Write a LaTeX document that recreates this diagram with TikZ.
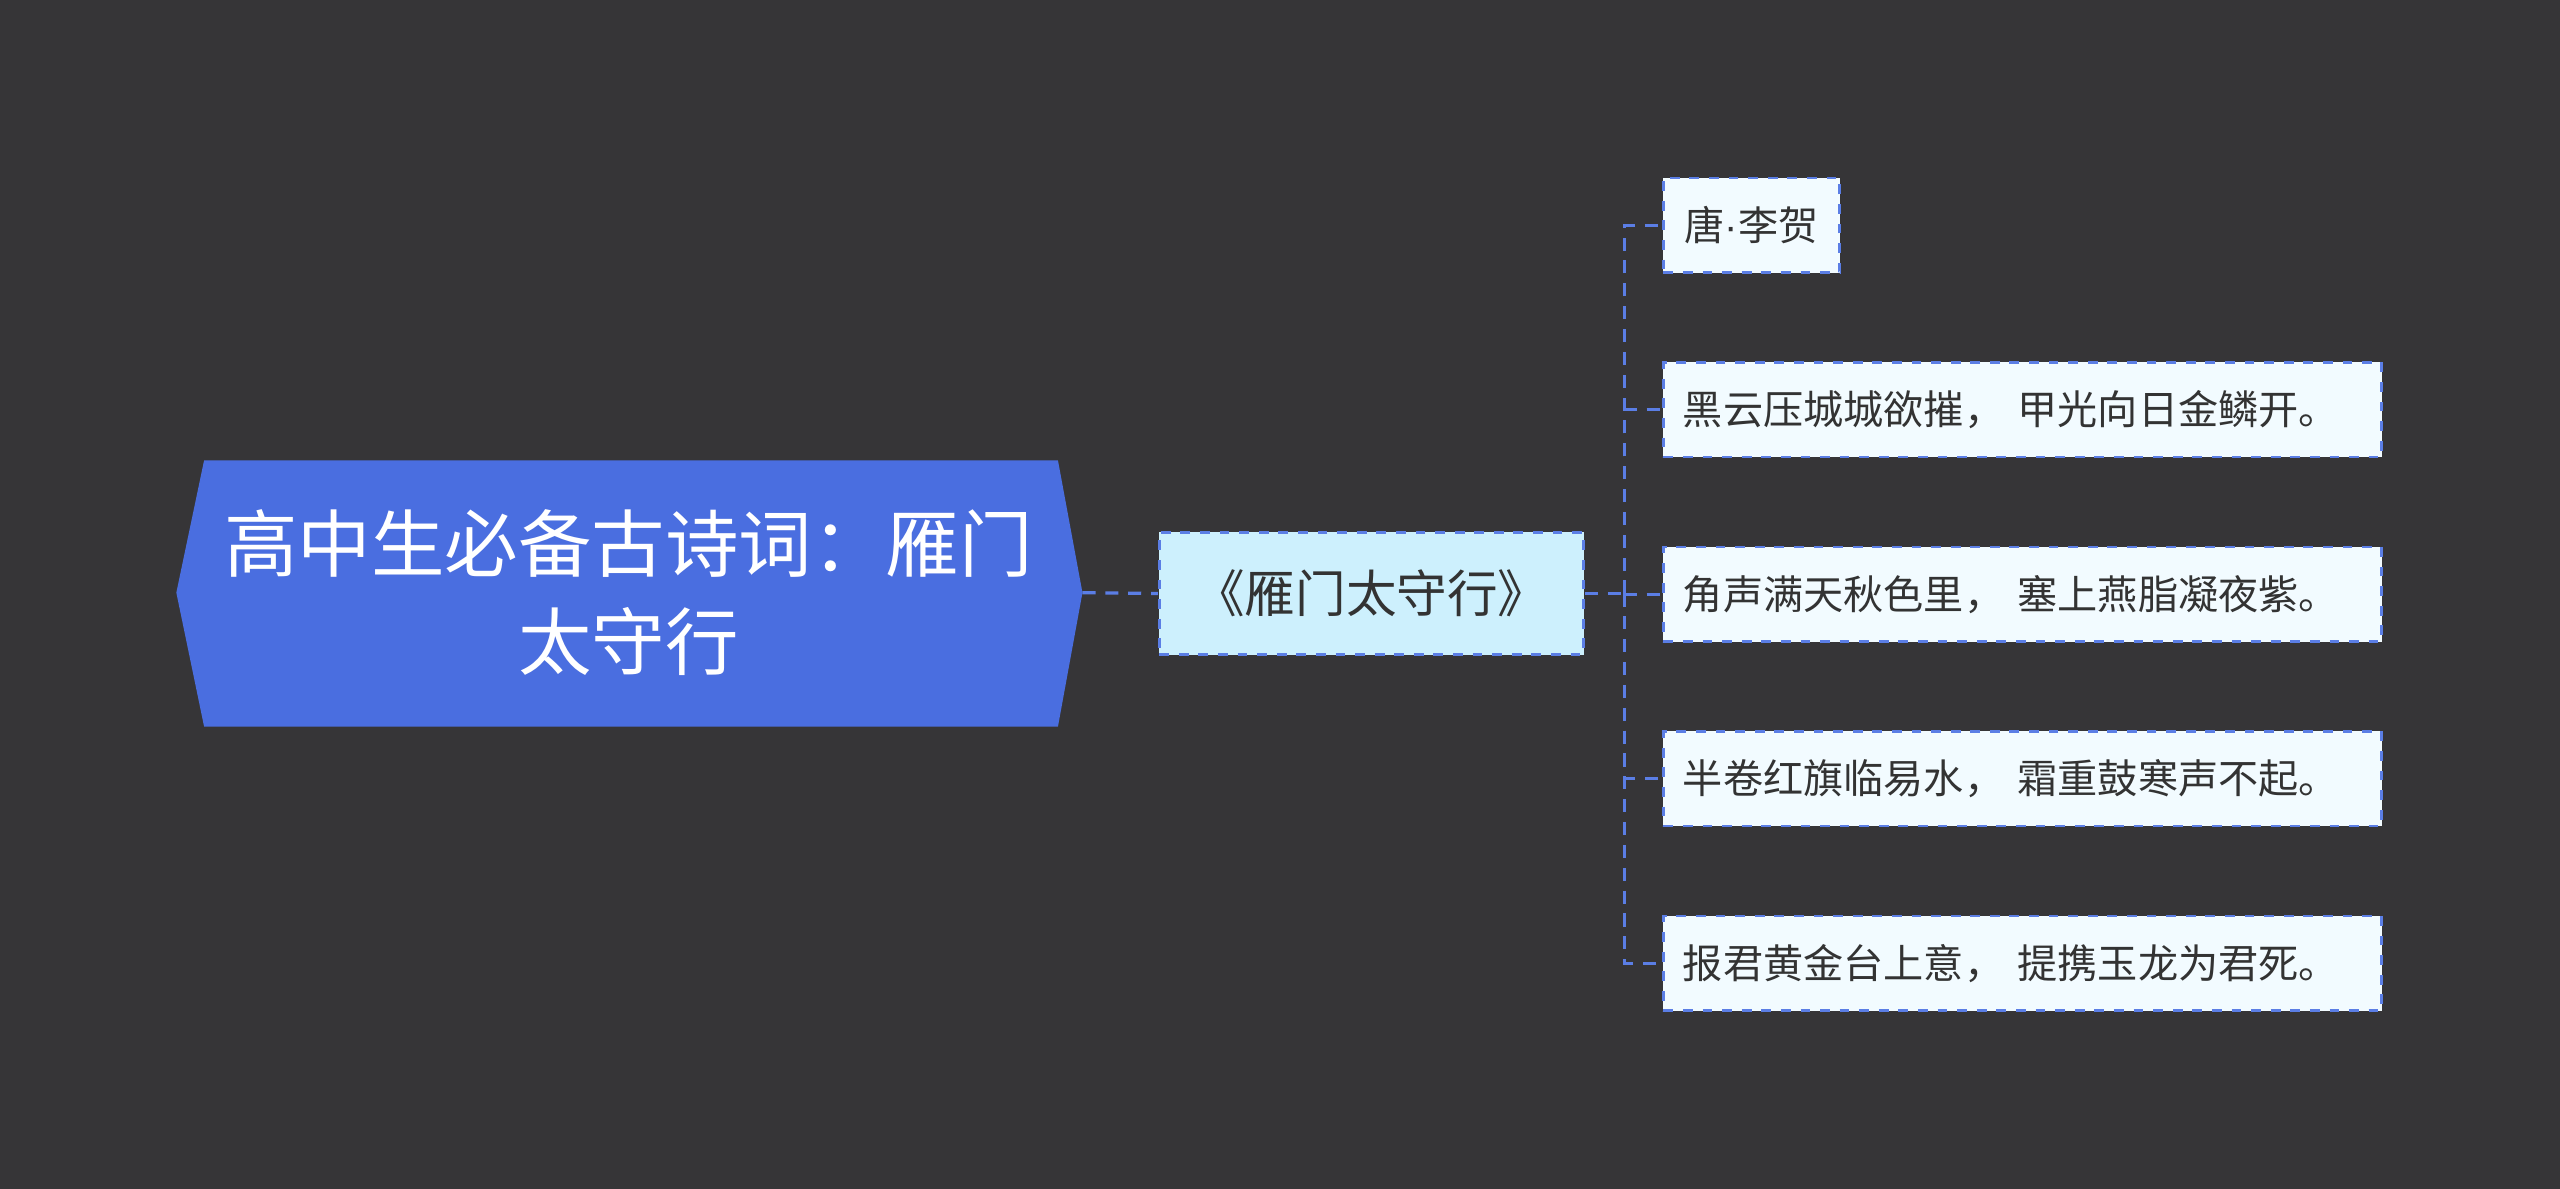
\documentclass[tikz,border=0pt]{standalone}
\usepackage{fontspec}
\setmainfont{Noto Sans CJK SC}
\newfontfamily\latinf{Liberation Sans}
\definecolor{bg}{HTML}{363537}
\definecolor{rootc}{HTML}{4A6EE0}
\definecolor{linec}{HTML}{5B7EE5}
\definecolor{midc}{HTML}{CDF0FD}
\definecolor{leafc}{HTML}{F2FBFF}
\definecolor{txt}{HTML}{333333}
\tikzset{
  conn/.style={draw=linec, line width=1pt, dash pattern=on 4pt off 3pt},
  leaf/.style={draw=linec, dashed, line width=0.8pt, fill=leafc, minimum height=29pt, inner sep=6pt, text=txt, font=\fontsize{12.3}{14}\selectfont, anchor=west},
}
\begin{document}
\begin{tikzpicture}[x=0.5pt,y=-0.5pt]
\fill[bg] (0,0) rectangle (1568,728);
\useasboundingbox (0,0) rectangle (1568,728);
\fill[rootc] (108,363) -- (125,282) -- (648,282) -- (663,363) -- (648,445) -- (125,445) -- cycle;
\node[text=white, align=center, font=\fontsize{22.5}{30}\selectfont] (root) at (385,363) {高中生必备古诗词：雁门\\太守行};
\coordinate (rootR) at (663,363);
\node[draw=linec, dashed, line width=0.8pt, fill=midc, minimum width=130pt, minimum height=37.5pt, text=txt, font=\fontsize{15.5}{18}\selectfont] (mid) at (840,363.5) {《雁门太守行》};
\draw[conn] (rootR) -- (mid.west);
\node[leaf, minimum width=54pt, inner xsep=5pt] (l1) at (1018,138) {唐{\latinf·}李贺};
\node[leaf, minimum width=220pt, text width=208pt] (l2) at (1018,251) {黑云压城城欲摧， 甲光向日金鳞开。};
\node[leaf, minimum width=220pt, text width=208pt] (l3) at (1018,364) {角声满天秋色里， 塞上燕脂凝夜紫。};
\node[leaf, minimum width=220pt, text width=208pt] (l4) at (1018,477) {半卷红旗临易水， 霜重鼓寒声不起。};
\node[leaf, minimum width=220pt, text width=208pt] (l5) at (1018,590) {报君黄金台上意， 提携玉龙为君死。};
\coordinate (bx) at (995,363.5);
\draw[conn] (mid.east) -- (bx);
\foreach \n in {l1,l2,l3,l4,l5}{
  \draw[conn] (bx) |- (\n.west);
}
\end{tikzpicture}
\end{document}
